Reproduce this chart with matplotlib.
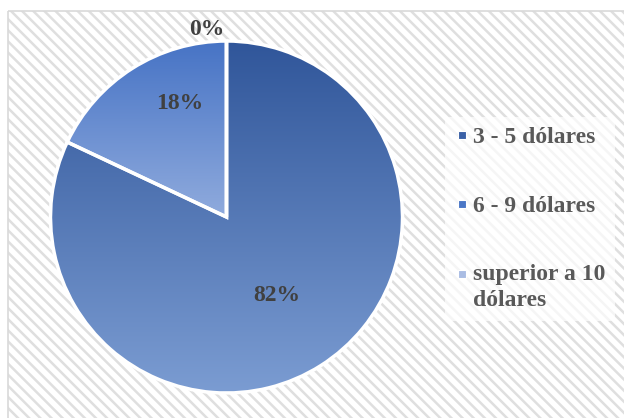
import numpy as np
import matplotlib.pyplot as plt
from matplotlib.colors import LinearSegmentedColormap
from matplotlib.lines import Line2D
from matplotlib.patches import Rectangle
from matplotlib.legend_handler import HandlerLine2D

# datos de la encuesta
categorias = ['3 - 5 dólares', '6 - 9 dólares', 'superior a 10\ndólares']
porcentajes = [82, 18, 0]

# degradado de cada sector (arriba -> abajo) y color de la leyenda
color_arriba = ['#30569A', '#4673C5', '#A9BCE3']
color_abajo = ['#7B9CD2', '#90ABDD', '#A9BCE3']
color_leyenda = ['#3A60A6', '#4A76C6', '#A9BCE3']

plt.rcParams['font.family'] = ['Liberation Serif', 'DejaVu Serif']
plt.rcParams['hatch.linewidth'] = 1.8

W, H = 624, 418
fig = plt.figure(figsize=(W / 100, H / 100), dpi=100)

# fondo rayado con marco gris
fondo = fig.add_axes([0, 0, 1, 1])
fondo.set_xlim(0, W)
fondo.set_ylim(H, 0)
fondo.axis('off')
fondo.add_patch(Rectangle((8, 11), W, H, facecolor='white', edgecolor='#DFDFDF',
                          hatch='\\\\\\', linewidth=0))
fondo.add_patch(Rectangle((8, 11), W, H, facecolor='none', edgecolor='#D9D9D9',
                          linewidth=1.2))

# grafico circular
lado = 176 * 2 * 1.02
ax = fig.add_axes([(226.5 - lado / 2) / W, (H - 217 - lado / 2) / H, lado / W, lado / H])
wedges, _ = ax.pie(porcentajes, startangle=90, counterclock=False, radius=1,
                   wedgeprops=dict(edgecolor='white', linewidth=2.5))

grad = np.linspace(0, 1, 256).reshape(-1, 1)
for w, c1, c2 in zip(wedges, color_arriba, color_abajo):
    w.set_facecolor('none')
    w.set_zorder(3)
    ext = w.get_path().get_extents()
    if ext.width < 1e-6:
        continue
    cmap = LinearSegmentedColormap.from_list('deg', [c1, c2])
    im = ax.imshow(grad, cmap=cmap, extent=[ext.x0, ext.x1, ext.y0, ext.y1],
                   aspect='auto', zorder=1, interpolation='bilinear')
    im.set_clip_path(w)

ax.set_xlim(-1.02, 1.02)
ax.set_ylim(-1.02, 1.02)
ax.axis('off')

# etiquetas de porcentaje
radio_etiqueta = [0.53, 0.70, 1.07]
giro_etiqueta = [0, -10, 6]
for w, p, r, g in zip(wedges, porcentajes, radio_etiqueta, giro_etiqueta):
    ang = np.deg2rad((w.theta1 + w.theta2) / 2 + g)
    ax.text(r * np.cos(ang), r * np.sin(ang), f'{p}%', ha='center', va='center',
            fontsize=17, fontweight='bold', color='#404040', zorder=5)


# marca de la leyenda a la altura de la primera linea del texto
class MarcaPrimeraLinea(HandlerLine2D):
    def __init__(self, lineas, **kw):
        super().__init__(**kw)
        self.lineas = lineas

    def create_artists(self, legend, orig_handle, xdescent, ydescent, width,
                       height, fontsize, trans):
        sube = (self.lineas - 1) * 1.15 * fontsize
        return super().create_artists(legend, orig_handle, xdescent,
                                      ydescent - sube, width, height,
                                      fontsize, trans)


marcas = [Line2D([], [], marker='s', linestyle='', markersize=6,
                 markerfacecolor=c, markeredgecolor='white', markeredgewidth=0.8)
          for c in color_leyenda]
manejadores = {m: MarcaPrimeraLinea(cat.count('\n') + 1)
               for m, cat in zip(marcas, categorias)}
leg = fig.legend(marcas, categorias, loc='center left', handler_map=manejadores,
                 bbox_to_anchor=(445 / W, (H - 219) / H), frameon=True,
                 facecolor='white', edgecolor='none', framealpha=0.7,
                 labelspacing=2.0, handlelength=0.6, handletextpad=0.2,
                 borderpad=0.4, borderaxespad=0,
                 prop=dict(size=17, weight='bold'))
for t in leg.get_texts():
    t.set_color('#595959')
    t.set_linespacing(1.3)

fig.savefig('out.png', dpi=100)
